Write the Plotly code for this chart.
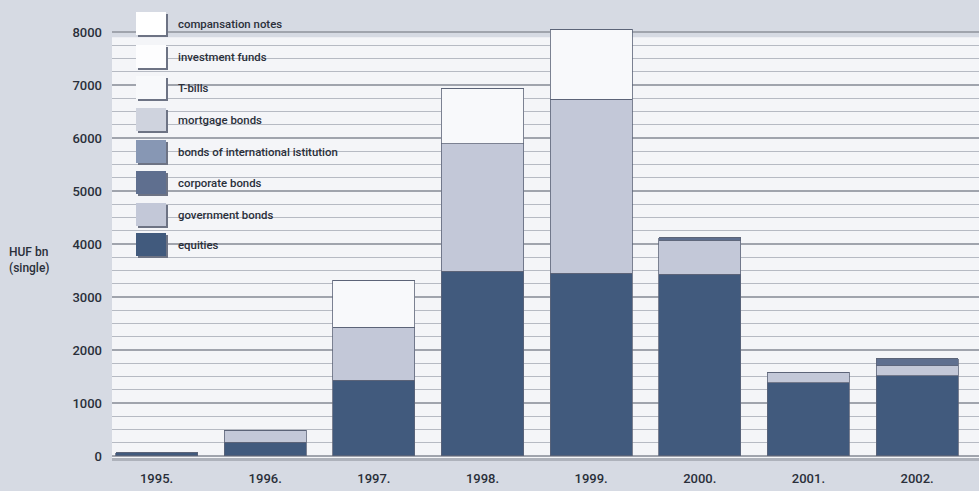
import plotly.graph_objects as go

years = ["1995.", "1996.", "1997.", "1998.", "1999.", "2000.", "2001.", "2002."]

series_names = ["equities", "government bonds", "corporate bonds",
                "bonds of international istitution", "mortgage bonds",
                "T-bills", "investment funds", "compansation notes"]

equities = [60, 260, 1430, 3490, 3450, 3430, 1380, 1510]
government_bonds = [0, 230, 1000, 2400, 3280, 640, 200, 190]
corporate_bonds = [0, 0, 0, 0, 0, 50, 0, 130]
intl_bonds = [0, 0, 0, 0, 0, 0, 0, 0]
mortgage_bonds = [0, 0, 0, 0, 0, 0, 0, 0]
t_bills = [0, 0, 890, 1040, 1320, 0, 0, 0]
investment_funds = [0, 0, 0, 0, 0, 0, 0, 0]
compensation_notes = [0, 0, 0, 0, 0, 0, 0, 0]

y_ticks = [0, 1000, 2000, 3000, 4000, 5000, 6000, 7000, 8000]

values = [equities, government_bonds, corporate_bonds, intl_bonds,
          mortgage_bonds, t_bills, investment_funds, compensation_notes]
colors = ["#415a7d", "#c3c8d8", "#5f6f8f", "#8797b4", "#cfd3de",
          "#f8f9fb", "#fdfdfe", "#ffffff"]

FONT = "Roboto, 'DejaVu Sans', sans-serif"
TXT = "#2a2f3a"
W, H = 979, 491
ML, MR, MT, MB = 112, 0, 20, 33
PW, PH = W - ML - MR, H - MT - MB

fig = go.Figure()
for name, vals, col in zip(series_names, values, colors):
    fig.add_trace(go.Bar(
        x=years, y=vals, name=name,
        marker=dict(color=col, line=dict(color="#5c6478", width=0.8)),
        showlegend=False, hoverinfo="x+y+name",
    ))

def px_x(px):
    return (px - ML) / PW

def px_y(py):
    return (H - MB - py) / PH

shapes = []
shapes.append(dict(type="rect", xref="paper", yref="y", x0=0, x1=1, y0=-38, y1=7900,
                   fillcolor="#f4f5f8", line=dict(width=0), layer="below"))

legend_tops = [12, 45, 76, 108, 140, 171, 203, 233]
legend_order = list(zip(series_names, colors))[::-1]
annotations = []
for (name, col), top in zip(legend_order, legend_tops):
    x0, x1 = 136, 166
    y0, y1 = top, top + 23
    shapes.append(dict(type="rect", xref="paper", yref="paper",
                       x0=px_x(x0 + 2), x1=px_x(x1 + 2), y0=px_y(y1 + 2), y1=px_y(y0 + 2),
                       fillcolor="#6d7384", line=dict(width=0), layer="above"))
    shapes.append(dict(type="rect", xref="paper", yref="paper",
                       x0=px_x(x0), x1=px_x(x1), y0=px_y(y1), y1=px_y(y0),
                       fillcolor=col, line=dict(width=0), layer="above"))
    annotations.append(dict(xref="paper", yref="paper", x=px_x(176), y=px_y(top + 12),
                            text=name, showarrow=False, xanchor="left", yanchor="middle",
                            font=dict(family=FONT, size=11.4, color=TXT, weight=500)))

annotations.append(dict(xref="paper", yref="paper", x=px_x(7), y=px_y(260),
                        text="HUF bn<br>(single)", showarrow=False, xanchor="left",
                        yanchor="middle", align="left",
                        font=dict(family=FONT, size=12, color=TXT, weight=500)))

fig.update_layout(
    width=W, height=H,
    margin=dict(l=ML, r=MR, t=MT, b=MB, pad=0),
    barmode="stack", bargap=0.245,
    paper_bgcolor="#d6dae3", plot_bgcolor="rgba(0,0,0,0)",
    font=dict(family=FONT, size=13, color=TXT),
    shapes=shapes, annotations=annotations,
    xaxis=dict(range=[-0.41, 7.57], automargin=False, showgrid=False, showline=True,
               linecolor="#aeb2bb", linewidth=3, ticks="", ticklabelstandoff=6,
               tickfont=dict(family=FONT, size=13, color=TXT, weight=500)),
    yaxis=dict(range=[-38, 8226], automargin=False, tickvals=y_ticks, showgrid=True,
               gridcolor="#a0a4ad", gridwidth=1.5, zeroline=False, showline=False,
               ticks="", ticklabelstandoff=9,
               tickfont=dict(family=FONT, size=13, color=TXT, weight=500),
               minor=dict(tickvals=[v for v in range(250, 8000, 250) if v % 1000],
                          showgrid=True, gridcolor="#b6bac3", gridwidth=1.2)),
)

fig.write_html("out.html", config={"displayModeBar": False},
               post_script="document.body.style.margin='0';document.body.style.background='#d6dae3';")
